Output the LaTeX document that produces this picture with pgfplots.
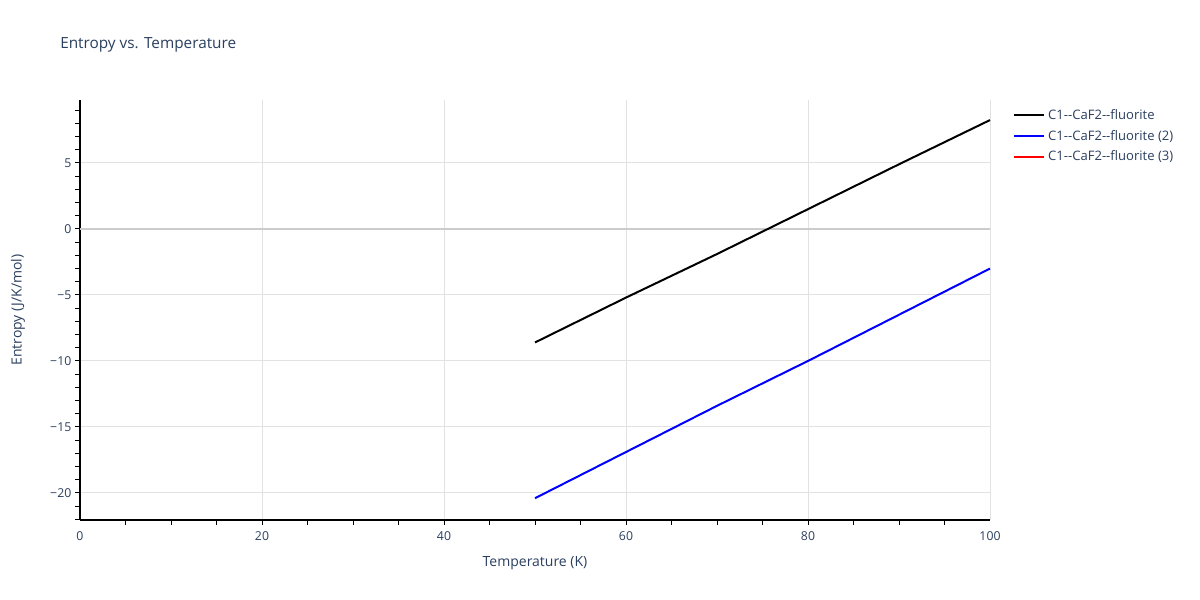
\documentclass[border=0pt]{standalone}
\usepackage{pgfplots}
\pgfplotsset{compat=1.18}
\usepackage{fontspec}
\setmainfont{Open Sans}
\definecolor{txt}{HTML}{2A3F5F}
\definecolor{gridc}{HTML}{E2E2E2}
\definecolor{zeroc}{HTML}{CCCCCC}

\begin{document}
\begin{tikzpicture}
\begin{axis}[
    scale only axis,
    width=682.5pt, height=315pt,
    xmin=0, xmax=100,
    ymin=-22.05, ymax=9.77,
    axis lines*=left,
    axis line style={black, line width=0.8pt},
    xtick={0,20,...,100},
    ytick={-20,-15,-10,-5,5},
    yticklabels={−20,−15,−10,−5,5},
    minor xtick={5,10,...,95},
    minor ytick={-22,-21,...,9},
    tick align=outside,
    major tick length=0pt,
    minor tick length=3.75pt,
    minor tick style={black, line width=0.7pt},
    xmajorgrids, ymajorgrids,
    major grid style={gridc, line width=0.75pt},
    extra y ticks={0},
    extra y tick labels={0},
    extra y tick style={major grid style={zeroc, line width=1.5pt}},
    ticklabel style={font=\fontsize{9.2}{11}\selectfont, text=txt},
    /pgf/number format/assume math mode=true,
    xticklabel style={yshift=-5pt},
    yticklabel style={xshift=-3pt},
    xlabel={Temperature (K)},
    ylabel={Entropy (J/K/mol)},
    label style={font=\fontsize{10.5}{12}\selectfont, text=txt},
    xlabel style={at={(axis description cs:0.5,-0.1024)}, anchor=center},
    ylabel style={at={(axis description cs:-0.0681,0.5)}, anchor=center},
    legend style={at={(1.0255,0.985)}, anchor=north west, draw=none, fill=none,
        font=\fontsize{9.8}{11.5}\selectfont, text=txt,
        row sep=2.6pt, inner sep=0pt},
    legend cell align=left,
    legend image code/.code={\draw[#1] (0pt,0pt) -- (22.5pt,0pt);},
    clip=false,
]
\coordinate (o) at (rel axis cs:0,0);
\addplot[black, line width=1.5pt] coordinates {
    (50,-8.6) (60,-5.2) (70,-1.9) (80,1.5) (90,4.9) (100,8.25)
};
\addlegendentry{C1{-}{-}CaF2{-}{-}fluorite}
\addplot[blue, line width=1.5pt] coordinates {
    (50,-20.4) (60,-16.9) (70,-13.4) (80,-10.0) (90,-6.5) (100,-3.0)
};
\addlegendentry{C1{-}{-}CaF2{-}{-}fluorite (2)}
\addlegendimage{red, line width=1.5pt}
\addlegendentry{C1{-}{-}CaF2{-}{-}fluorite (3)}
\end{axis}
\node[anchor=west, text=txt, font=\fontsize{11.5}{14}\selectfont, inner sep=0pt]
    at ([xshift=-15pt, yshift=356.25pt]o) {Entropy vs. Temperature};
\pgfresetboundingbox
\path (o) ++(-60pt,-60pt) rectangle ++(900pt,450pt);
\end{tikzpicture}
\end{document}
